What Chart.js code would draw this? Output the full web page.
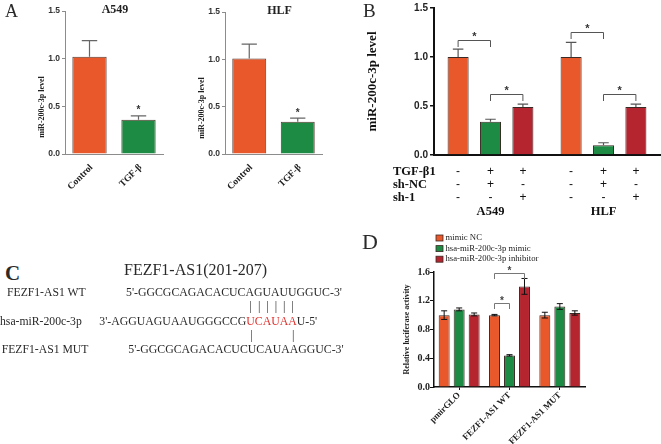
<!DOCTYPE html>
<html><head><meta charset="utf-8">
<script src="https://cdn.jsdelivr.net/npm/chart.js@4.4.0/dist/chart.umd.min.js"></script>
<style>
body{margin:0;background:#fff;}
#fig{position:relative;width:661px;height:444px;overflow:hidden;background:#fff;font-family:"Liberation Serif","Times New Roman",serif;color:#2a2a2a}
canvas{position:absolute}
.t{position:absolute;white-space:nowrap;line-height:1}
.red{color:#e0302c}
</style></head><body>
<div id="fig">
<canvas id="cA1" width="170" height="220" style="left:0;top:0"></canvas>
<canvas id="cA2" width="170" height="220" style="left:160px;top:0"></canvas>
<canvas id="cB" width="331" height="220" style="left:330px;top:0"></canvas>
<canvas id="cD" width="331" height="224" style="left:330px;top:220px"></canvas>

<div class="t" style="left:5px;top:2px;font-size:18px">A</div>
<div class="t" style="left:363px;top:1px;font-size:19px">B</div>
<div class="t" style="left:5px;top:263px;font-size:21px;font-weight:bold">C</div>
<div class="t" style="left:362px;top:231px;font-size:22px">D</div>

<div class="t" style="left:124px;top:261.5px;font-size:16px">FEZF1-AS1(201-207)</div>
<div class="t" style="left:7px;top:287px;font-size:11.7px">FEZF1-AS1 WT</div>
<div class="t" style="left:126px;top:286.8px;font-size:11.8px">5'-GGCGCAGACACUCAGUAUUGGUC-3'</div>
<div class="t" style="left:249.5px;top:300.3px;font-size:12px;letter-spacing:6px">||||||</div>
<div class="t" style="left:0px;top:315.6px;font-size:11.7px">hsa-miR-200c-3p</div>
<div class="t" style="left:99.3px;top:315.6px;font-size:11.8px">3'-AGGUAGUAAUGGGCCG<span class="red">UCAUAA</span>U-5'</div>
<div class="t" style="left:250.5px;top:329px;font-size:12px;letter-spacing:39.2px">||</div>
<div class="t" style="left:1.7px;top:344px;font-size:11.7px">FEZF1-AS1 MUT</div>
<div class="t" style="left:128.3px;top:344px;font-size:11.8px">5'-GGCGCAGACACUCUCAUAAGGUC-3'</div>
</div>
<script>
// ---------------- DATA ----------------
// Panel A
const groupsA = ['Control', 'TGF-β'];
const a549Values = [1.02, 0.36];
const a549Errors = [0.17, 0.04];
const hlfValues = [1.01, 0.34];
const hlfErrors = [0.15, 0.04];

// Panel B
const cellLinesB = ['A549', 'HLF'];
const seriesB = ['Control', 'TGF-β1 + sh-NC', 'TGF-β1 + sh-1'];
const controlB = [1.00, 1.00];
const shNCB = [0.34, 0.10];
const sh1B = [0.49, 0.49];
const controlBErr = [0.08, 0.15];
const shNCBErr = [0.025, 0.025];
const sh1BErr = [0.03, 0.03];
const rowLabelsB = ['TGF-β1', 'sh-NC', 'sh-1'];
const rowTGF = ['-', '+', '+'];
const rowShNC = ['-', '+', '-'];
const rowSh1 = ['-', '-', '+'];
const bracketsB = [
  {group: 0, from: 0, to: 1, level: 1.17},
  {group: 0, from: 1, to: 2, level: 0.62},
  {group: 1, from: 0, to: 1, level: 1.25},
  {group: 1, from: 1, to: 2, level: 0.62}
];

// Panel D
const constructsD = ['pmirGLO', 'FEZF1-AS1 WT', 'FEZF1-AS1 MUT'];
const seriesD = ['mimic NC', 'hsa-miR-200c-3p mimic', 'hsa-miR-200c-3p inhibitor'];
const mimicNC = [1.00, 1.00, 1.00];
const mimicNCErr = [0.06, 0.01, 0.04];
const mimic = [1.08, 0.44, 1.12];
const mimicErr = [0.02, 0.01, 0.04];
const inhibitor = [1.01, 1.40, 1.03];
const inhibitorErr = [0.02, 0.11, 0.03];
const bracketsD = [
  {group: 1, from: 0, to: 1, level: 1.17},
  {group: 1, from: 0, to: 2, level: 1.58}
];

// ---------------- STYLE ----------------
const SERIF = "'Liberation Serif','Times New Roman',serif";
const SANS = "'Liberation Sans',Arial,sans-serif";
const ORANGE = '#E8582A', GREEN = '#1E8B45', RED = '#B52530';
const OUTLINE = '#5a3a30';

function drawStar(ctx, x, yc, font, color) {
  ctx.font = font; ctx.fillStyle = color; ctx.textAlign = 'center'; ctx.textBaseline = 'alphabetic';
  const m = ctx.measureText('*');
  ctx.fillText('*', x, yc + (m.actualBoundingBoxAscent - m.actualBoundingBoxDescent) / 2);
}

const annot = {
  id: 'annot',
  afterDatasetsDraw(chart, args, o) {
    if (!o || !o.on) return;
    const ctx = chart.ctx, ys = chart.scales.y;
    ctx.save();
    chart.data.datasets.forEach((ds, di) => {
      if (!ds.errors) return;
      const meta = chart.getDatasetMeta(di);
      meta.data.forEach((bar, i) => {
        const v = ds.data[i], e = ds.errors[i];
        const top = ys.getPixelForValue(v + e);
        const bot = o.errBoth ? ys.getPixelForValue(v - e) : bar.y;
        const hw = bar.width * o.capFrac / 2;
        ctx.strokeStyle = o.errColor; ctx.lineWidth = o.errWidth;
        ctx.beginPath();
        ctx.moveTo(bar.x, bot); ctx.lineTo(bar.x, top);
        ctx.moveTo(bar.x - hw, top); ctx.lineTo(bar.x + hw, top);
        if (o.errBoth) { ctx.moveTo(bar.x - hw, bot); ctx.lineTo(bar.x + hw, bot); }
        ctx.stroke();
      });
    });
    (o.brackets || []).forEach(b => {
      const x1 = chart.getDatasetMeta(b.from).data[b.group].x;
      const x2 = chart.getDatasetMeta(b.to).data[b.group].x;
      const y = Math.round(ys.getPixelForValue(b.level)) + 0.5;
      ctx.strokeStyle = o.bracketColor; ctx.lineWidth = 1;
      ctx.beginPath();
      ctx.moveTo(x1, y + o.drop); ctx.lineTo(x1, y); ctx.lineTo(x2, y); ctx.lineTo(x2, y + o.drop);
      ctx.stroke();
      drawStar(ctx, (x1 + x2) / 2, y - o.starGap, o.starFont, o.starColor);
    });
    (o.stars || []).forEach(s => {
      const ds = chart.data.datasets[s.ds];
      const bar = chart.getDatasetMeta(s.ds).data[s.index];
      const y = ys.getPixelForValue(ds.data[s.index] + ds.errors[s.index]);
      drawStar(ctx, bar.x, y - o.starGap, o.starFont, o.starColor);
    });
    ctx.restore();
  }
};

const texts = {
  id: 'texts',
  afterDraw(chart, args, o) {
    if (!o || !o.items) return;
    const ctx = chart.ctx;
    o.items.forEach(t => {
      ctx.save();
      ctx.translate(t.x, t.y);
      if (t.rot) ctx.rotate(t.rot * Math.PI / 180);
      ctx.font = t.font; ctx.fillStyle = t.color || '#222';
      ctx.textAlign = 'center'; ctx.textBaseline = 'middle';
      ctx.fillText(t.text, 0, 0);
      ctx.restore();
    });
  }
};

const condTable = {
  id: 'condTable',
  afterDraw(chart, args, o) {
    if (!o || !o.rows) return;
    const ctx = chart.ctx;
    ctx.save(); ctx.textBaseline = 'middle'; ctx.fillStyle = o.color;
    o.rows.forEach((row, r) => {
      const y = o.rowY[r];
      ctx.font = o.labelFont; ctx.textAlign = 'left';
      ctx.fillText(o.labels[r], o.labelX, y);
      ctx.font = o.signFont; ctx.textAlign = 'center';
      chart.data.labels.forEach((g, gi) => {
        row.forEach((sign, di) => {
          const x = chart.getDatasetMeta(di).data[gi].x;
          ctx.fillText(sign, x, y);
        });
      });
    });
    ctx.font = o.labelFont; ctx.textAlign = 'center';
    chart.data.labels.forEach((g, gi) => ctx.fillText(g, chart.scales.x.getPixelForValue(gi), o.groupY));
    ctx.restore();
  }
};

const boxLegend = {
  id: 'boxLegend',
  afterDraw(chart, args, o) {
    if (!o || !o.on) return;
    const ctx = chart.ctx;
    ctx.save(); ctx.font = o.font; ctx.textBaseline = 'middle'; ctx.textAlign = 'left';
    chart.data.datasets.forEach((ds, i) => {
      const y = o.y + i * o.rowH;
      ctx.fillStyle = ds.backgroundColor;
      ctx.fillRect(o.x, y - o.boxH / 2, o.boxW, o.boxH);
      ctx.strokeStyle = ds.borderColor; ctx.lineWidth = 0.8;
      ctx.strokeRect(o.x, y - o.boxH / 2, o.boxW, o.boxH);
      ctx.fillStyle = o.color;
      ctx.fillText(ds.label, o.x + o.boxW + o.gap, y);
    });
    ctx.restore();
  }
};

Chart.register(annot, texts, condTable, boxLegend);

// ---------------- PANEL A ----------------
function chartA(id, values, errors, title, cfg) {
  return new Chart(document.getElementById(id), {
    type: 'bar',
    data: {
      labels: groupsA,
      datasets: [{
        data: values, errors: errors,
        backgroundColor: [ORANGE, GREEN], borderColor: OUTLINE, borderWidth: 1,
        barPercentage: 0.7, categoryPercentage: 1
      }]
    },
    options: {
      responsive: false, animation: false,
      layout: {padding: {top: cfg.top, right: cfg.right, left: 0, bottom: 0}},
      plugins: {
        legend: {display: false}, tooltip: {enabled: false},
        annot: {on: true, errBoth: false, capFrac: 0.45, errColor: '#666', errWidth: 1.2,
                stars: [{ds: 0, index: 1}], starGap: 8, starFont: 'bold 10px ' + SANS, starColor: '#333'},
        texts: {items: [
          {text: title, x: cfg.titleX, y: cfg.titleY, font: 'bold 12px ' + SERIF, color: '#222'},
          {text: 'miR-200c-3p level', x: cfg.yTitleX, y: cfg.yTitleY, rot: -90, font: 'bold 8px ' + SERIF, color: '#222'}
        ]}
      },
      scales: {
        x: {
          grid: {display: false},
          border: {display: true, color: '#8c8c8c', width: 1},
          ticks: {minRotation: 45, maxRotation: 45, padding: 0, labelOffset: 2, color: '#222',
                  font: {family: SERIF, weight: 'bold', size: 9.5}},
          afterFit(s) { s.height = 66; }
        },
        y: {
          min: 0, max: 1.5,
          ticks: {stepSize: 0.5, callback: v => v.toFixed(1), padding: 2, color: '#333',
                  font: {family: SANS, weight: 'bold', size: 8.5}},
          grid: {drawOnChartArea: false, tickLength: 3, color: '#8c8c8c'},
          border: {color: '#8c8c8c', width: 1},
          afterFit(s) { s.width = 65; }
        }
      }
    }
  });
}
chartA('cA1', a549Values, a549Errors, 'A549', {top: 11, right: 7, titleX: 115, titleY: 10, yTitleX: 42, yTitleY: 107});
chartA('cA2', hlfValues, hlfErrors, 'HLF', {top: 12, right: 8, titleX: 119.5, titleY: 11, yTitleX: 41.7, yTitleY: 108});

// ---------------- PANEL B ----------------
const dsB = (label, data, errors, color) => ({
  label, data, errors, backgroundColor: color, borderColor: '#3a2a25', borderWidth: 1,
  barPercentage: 0.65, categoryPercentage: 0.86
});
new Chart(document.getElementById('cB'), {
  type: 'bar',
  data: {
    labels: cellLinesB,
    datasets: [
      dsB(seriesB[0], controlB, controlBErr, ORANGE),
      dsB(seriesB[1], shNCB, shNCBErr, GREEN),
      dsB(seriesB[2], sh1B, sh1BErr, RED)
    ]
  },
  options: {
    responsive: false, animation: false,
    layout: {padding: {top: 8, right: 1, left: 0, bottom: 0}},
    plugins: {
      legend: {display: false}, tooltip: {enabled: false},
      annot: {on: true, errBoth: false, capFrac: 0.5, errColor: '#555', errWidth: 1.2,
              brackets: bracketsB, drop: 6.5, bracketColor: '#555', starGap: 6,
              starFont: 'bold 11px ' + SANS, starColor: '#333'},
      condTable: {rows: [rowTGF, rowShNC, rowSh1], labels: rowLabelsB, rowY: [172, 185, 198], groupY: 212,
                  labelX: 63, labelFont: 'bold 12.5px ' + SERIF, signFont: '12px ' + SANS, color: '#111'}
    },
    scales: {
      x: {
        grid: {display: false},
        border: {display: true, color: '#111', width: 2},
        ticks: {display: false},
        afterFit(s) { s.height = 65; }
      },
      y: {
        min: 0, max: 1.5,
        ticks: {stepSize: 0.5, callback: v => v.toFixed(1), padding: 2, color: '#222',
                font: {family: SANS, weight: 'bold', size: 10}},
        grid: {drawOnChartArea: false, tickLength: 4, color: '#111', lineWidth: 1.5},
        border: {color: '#111', width: 2},
        title: {display: true, text: 'miR-200c-3p level', color: '#111',
                font: {family: SERIF, weight: 'bold', size: 13}, padding: {top: 35.2, bottom: 0}},
        afterFit(s) { s.width = 104; }
      }
    }
  }
});

// ---------------- PANEL D ----------------
const dsD = (label, data, errors, color) => ({
  label, data, errors, backgroundColor: color, borderColor: '#3a2a25', borderWidth: 1,
  barPercentage: 0.73, categoryPercentage: 0.894
});
new Chart(document.getElementById('cD'), {
  type: 'bar',
  data: {
    labels: constructsD,
    datasets: [
      dsD(seriesD[0], mimicNC, mimicNCErr, ORANGE),
      dsD(seriesD[1], mimic, mimicErr, GREEN),
      dsD(seriesD[2], inhibitor, inhibitorErr, RED)
    ]
  },
  options: {
    responsive: false, animation: false,
    layout: {padding: {top: 52, right: 76, left: 0, bottom: 0}},
    plugins: {
      legend: {display: false}, tooltip: {enabled: false},
      annot: {on: true, errBoth: true, capFrac: 0.55, errColor: '#111', errWidth: 1,
              brackets: bracketsD, drop: 5.5, bracketColor: '#777', starGap: 5,
              starFont: 'bold 10px ' + SANS, starColor: '#444'},
      boxLegend: {on: true, x: 106, y: 18, rowH: 10.6, boxW: 7, boxH: 6, gap: 2.5,
                  font: '8.7px ' + SERIF, color: '#222'}
    },
    scales: {
      x: {
        grid: {display: true, drawOnChartArea: false, offset: false, tickLength: 3, color: '#111'},
        border: {display: true, color: '#111', width: 1.5},
        ticks: {minRotation: 45, maxRotation: 45, padding: 0, color: '#222',
                font: {family: SERIF, weight: 'bold', size: 9}},
        afterFit(s) { s.height = 57; }
      },
      y: {
        min: 0, max: 1.6,
        ticks: {stepSize: 0.2, callback: v => v.toFixed(1), padding: 0, color: '#222',
                font: {family: SERIF, weight: 'bold', size: 10}},
        grid: {drawOnChartArea: false, tickLength: 4, color: '#111'},
        border: {color: '#111', width: 1.5},
        title: {display: true, text: 'Relative luciferase activity', color: '#222',
                font: {family: SERIF, weight: 'bold', size: 8}, padding: {top: 72.2, bottom: 0}},
        afterFit(s) { s.width = 104; }
      }
    }
  }
});
</script>
</body></html>
